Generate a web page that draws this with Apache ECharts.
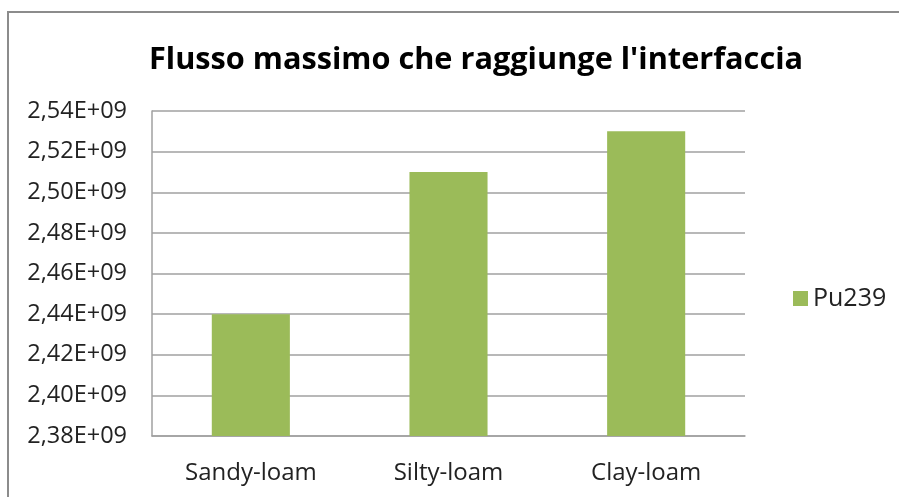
<!DOCTYPE html>
<html>
<head>
<meta charset="utf-8">
<script src="https://cdn.jsdelivr.net/npm/echarts@6/dist/echarts.min.js"></script>
<style>
html,body{margin:0;padding:0;background:#fff;}
#chart{width:899px;height:497px;}
</style>
</head>
<body>
<div id="chart"></div>
<script>
// Soil types on the x axis
const categories = ['Sandy-loam', 'Silty-loam', 'Clay-loam'];
// Maximum flux of Pu239 reaching the interface
const pu239 = [2.44e9, 2.51e9, 2.53e9];
// Value axis range
const yMin = 2.38e9;
const yMax = 2.54e9;
const yStep = 0.02e9;

const fontFamily = '"Open Sans", "Noto Sans", sans-serif';

function fmtSci(v) {
  // e.g. 2.44e9 -> "2,44E+09"
  const exp = Math.floor(Math.log10(Math.abs(v)));
  const mant = v / Math.pow(10, exp);
  const e = String(exp).padStart(2, '0');
  return mant.toFixed(2).replace('.', ',') + 'E+' + e;
}

const chart = echarts.init(document.getElementById('chart'));
chart.setOption({
  backgroundColor: '#ffffff',
  animation: false,
  graphic: [{
    type: 'rect',
    shape: { x: 8, y: 12, width: 1000, height: 600 },
    style: { fill: 'none', stroke: '#8c8c8c', lineWidth: 2 },
    silent: true
  }],
  title: {
    text: "Flusso massimo che raggiunge l'interfaccia",
    left: 471,
    top: 40,
    textAlign: 'center',
    textStyle: { fontFamily, fontSize: 30.7, fontWeight: 'bold', color: '#000' }
  },
  legend: {
    data: ['Pu239'],
    orient: 'vertical',
    left: 788,
    top: 281,
    itemWidth: 15,
    itemHeight: 15,
    itemGap: 6,
    icon: 'rect',
    textStyle: { fontFamily, fontSize: 25, color: '#222' }
  },
  grid: { left: 152, top: 111, width: 593, height: 325, containLabel: false },
  xAxis: {
    type: 'category',
    data: categories,
    axisLine: { show: true, lineStyle: { color: '#a0a0a0', width: 1.5 } },
    axisTick: { show: false },
    axisLabel: { fontFamily, fontSize: 24, color: '#222', margin: 25 }
  },
  yAxis: {
    type: 'value',
    min: yMin,
    max: yMax,
    interval: yStep,
    axisLine: { show: true, lineStyle: { color: '#a0a0a0', width: 1.5 } },
    axisTick: { show: false },
    splitLine: { lineStyle: { color: '#a0a0a0', width: 1.5 } },
    axisLabel: { fontFamily, fontSize: 23.5, color: '#222', margin: 25, formatter: fmtSci }
  },
  series: [{
    name: 'Pu239',
    type: 'bar',
    data: pu239,
    barWidth: '39.5%',
    itemStyle: { color: '#9bbb59' }
  }]
});
</script>
</body>
</html>
